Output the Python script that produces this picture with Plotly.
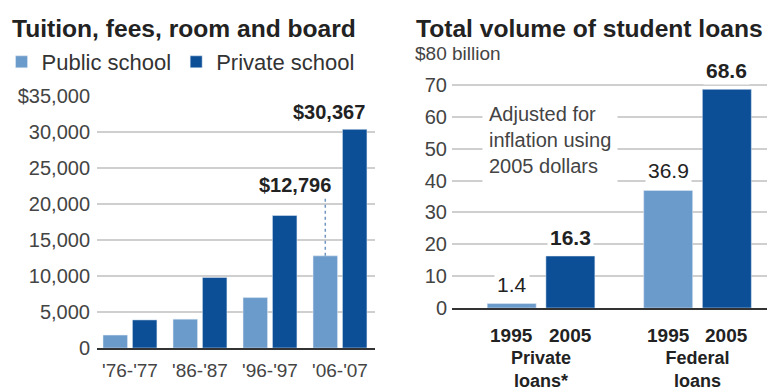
import plotly.graph_objects as go

# ---- data ----
periods = ["'76-'77", "'86-'87", "'96-'97", "'06-'07"]
public_cost = [1800, 4000, 7000, 12796]
private_cost = [3900, 9800, 18400, 30367]
cost_ticks = [0, 5000, 10000, 15000, 20000, 25000, 30000, 35000]
cost_ticktext = ["0", "5,000", "10,000", "15,000", "20,000", "25,000", "30,000", "$35,000"]

loan_groups = ["Private<br>loans*", "Federal<br>loans"]
loan_years = ["1995", "2005"]
loans_1995 = [1.4, 36.9]
loans_2005 = [16.3, 68.6]
loan_ticks = [0, 10, 20, 30, 40, 50, 60, 70, 80]
loan_ticktext = ["0", "10", "20", "30", "40", "50", "60", "70", ""]

LIGHT = "#6b9bcb"
DARK = "#0d4f97"
FONT = "Liberation Sans, Arial, sans-serif"
TXT = "#222222"
TICK = "#444444"
GRID = "#cfcfcf"

W, H = 767, 391
def px(x):
    return x / W
def py(y):
    return (H - y) / H

fig = go.Figure()

# left chart bars
fig.add_trace(go.Bar(x=periods, y=public_cost, name="Public school", marker_color=LIGHT,
                     width=0.35, offset=-0.385, xaxis="x", yaxis="y", hoverinfo="x+y"))
fig.add_trace(go.Bar(x=periods, y=private_cost, name="Private school", marker_color=DARK,
                     width=0.35, offset=0.035, xaxis="x", yaxis="y", hoverinfo="x+y"))

# right chart bars
fig.add_trace(go.Bar(x=loan_groups, y=loans_1995, name=loan_years[0], marker_color=LIGHT,
                     width=0.313, offset=-0.344, xaxis="x2", yaxis="y2", showlegend=False))
fig.add_trace(go.Bar(x=loan_groups, y=loans_2005, name=loan_years[1], marker_color=DARK,
                     width=0.313, offset=0.031, xaxis="x2", yaxis="y2", showlegend=False))

annotations = []
# titles
annotations.append(dict(text="<b>Tuition, fees, room and board</b>", x=px(10), y=py(28),
                        xref="paper", yref="paper", xanchor="left", yanchor="middle",
                        showarrow=False, font=dict(size=24.6, color=TXT, family=FONT)))
annotations.append(dict(text="<b>Total volume of student loans</b>", x=px(414), y=py(28),
                        xref="paper", yref="paper", xanchor="left", yanchor="middle",
                        showarrow=False, font=dict(size=24.6, color=TXT, family=FONT)))

# left value callouts
last = len(periods) - 1
annotations.append(dict(text="<b>$%s</b>" % format(private_cost[last], ","), x=last + 0.385, y=private_cost[last],
                        xref="x", yref="y", xanchor="right", yanchor="bottom", yshift=4,
                        showarrow=False, font=dict(size=20, color=TXT, family=FONT)))
annotations.append(dict(text="<b>$%s</b>" % format(public_cost[last], ","), x=last - 0.1, y=public_cost[last],
                        xref="x", yref="y", xanchor="right", yanchor="bottom", yshift=58,
                        showarrow=False, font=dict(size=20, color=TXT, family=FONT)))

# right value labels
for i, g in enumerate(loan_groups):
    annotations.append(dict(text="%s" % loans_1995[i], x=i - 0.1875, y=loans_1995[i],
                            xref="x2", yref="y2", xanchor="center", yanchor="bottom", yshift=5,
                            showarrow=False, bgcolor="white", borderpad=2,
                            font=dict(size=21, color=TXT, family=FONT)))
    annotations.append(dict(text="<b>%s</b>" % loans_2005[i], x=i + 0.1875, y=loans_2005[i],
                            xref="x2", yref="y2", xanchor="center", yanchor="bottom", yshift=4,
                            showarrow=False, bgcolor="white", borderpad=2,
                            font=dict(size=21, color=TXT, family=FONT)))
    for j, yr in enumerate(loan_years):
        annotations.append(dict(text="<b>%s</b>" % yr, x=i + (-0.1875 if j == 0 else 0.1875), y=py(335),
                                xref="x2", yref="paper", xanchor="center", yanchor="middle",
                                showarrow=False, font=dict(size=19, color=TXT, family=FONT)))

annotations.append(dict(text="$80 billion", x=px(413), y=80, xref="paper", yref="y2",
                        xanchor="left", yanchor="middle", showarrow=False, bgcolor="white",
                        borderpad=1, font=dict(size=19, color=TICK, family=FONT)))
annotations.append(dict(text="Adjusted for<br>inflation using<br>2005 dollars", x=px(482), y=py(140),
                        xref="paper", yref="paper", xanchor="left", yanchor="middle", align="left",
                        showarrow=False, bgcolor="white", borderpad=6,
                        font=dict(size=20, color=TICK, family=FONT)))

shapes = [dict(type="line", xref="x", yref="y", x0=last - 0.21, x1=last - 0.21,
               y0=public_cost[last], y1=20800, line=dict(color="#6f95c0", width=1.5, dash="dot"))]

fig.update_layout(
    width=W, height=H,
    margin=dict(l=0, r=0, t=0, b=0, autoexpand=False),
    paper_bgcolor="white", plot_bgcolor="white",
    font=dict(family=FONT, color=TICK),
    barmode="overlay",
    showlegend=True,
    legend=dict(orientation="h", x=0.002, y=py(41), xanchor="left", yanchor="top",
                font=dict(size=22, color="#333333", family=FONT), bgcolor="rgba(0,0,0,0)",
                itemwidth=30, traceorder="normal"),
    xaxis=dict(domain=[px(97), px(375)], range=[-0.471, 3.5], type="category", automargin=False,
               showgrid=False, showline=True, linecolor="#333333", linewidth=2,
               ticks="", tickfont=dict(size=19, color=TICK), ticklabelstandoff=4, fixedrange=True),
    yaxis=dict(domain=[py(348), py(96)], range=[0, 35000], anchor="x", automargin=False,
               tickvals=cost_ticks, ticktext=cost_ticktext, showgrid=True, gridcolor=GRID, gridwidth=1.6,
               zeroline=False, showline=False, ticks="", tickfont=dict(size=20, color=TICK),
               ticklabelstandoff=6, fixedrange=True),
    xaxis2=dict(domain=[px(452), 1.0], range=[-0.569, 1.444], type="category", anchor="y2", automargin=False,
                showgrid=False, showline=True, linecolor="#333333", linewidth=2,
                ticks="", tickfont=dict(size=18, color=TXT), ticklabelstandoff=32, fixedrange=True),
    yaxis2=dict(domain=[py(308), py(53)], range=[0, 80], anchor="x2", automargin=False,
                tickvals=loan_ticks, ticktext=loan_ticktext, showgrid=True, gridcolor=GRID, gridwidth=1.6,
                zeroline=False, showline=False, ticks="", tickfont=dict(size=20, color=TICK),
                ticklabelstandoff=4, fixedrange=True),
    annotations=annotations,
    shapes=shapes,
)
fig.layout.xaxis2.ticktext = ["<b>" + g + "</b>" for g in loan_groups]
fig.layout.xaxis2.tickvals = loan_groups

fig.write_html("out.html")
